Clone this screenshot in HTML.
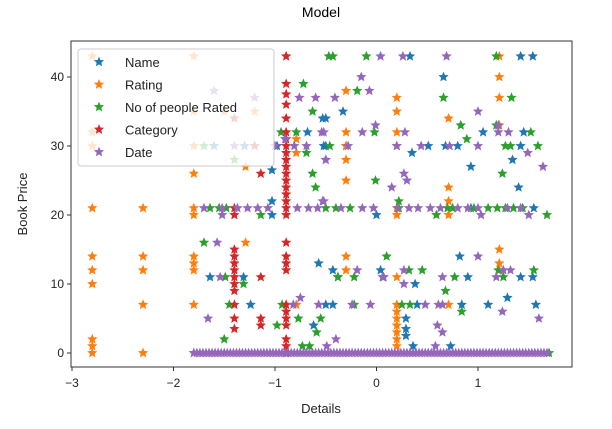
<!DOCTYPE html>
<html><head><meta charset="utf-8"><style>
body{margin:0;background:#fff;}
svg{display:block;font-family:"Liberation Sans","DejaVu Sans",sans-serif;}
</style></head><body>
<svg id="chart" width="612" height="429" viewBox="0 0 612 429">
<rect x="0" y="0" width="612" height="429" fill="#fff"/>
<text x="321" y="17" font-size="14" text-anchor="middle" fill="#000">Model</text>
<g id="marks"></g>
<rect x="71" y="41" width="501" height="326" fill="none" stroke="#333" stroke-width="1"/>
<g id="axes"></g>
<text x="321" y="413" font-size="13" text-anchor="middle" fill="#222">Details</text>
<text transform="translate(27,204) rotate(-90)" font-size="13" text-anchor="middle" fill="#222">Book Price</text>
<g id="legend"></g>
</svg>
<script>
const xTicks=[-3,-2,-1,0,1];
const yTicks=[0,10,20,30,40];
const seriesNames=["Name","Rating","No of people Rated","Category","Date"];
const colors=["#1f77b4","#ff7f0e","#2ca02c","#d62728","#9467bd"];
const nameX=[0.33,1.42,1.54,0.66,-0.33,-0.5,-0.52,0.51,0.68,1.42,1.05,1.45,0.35,1.34,0.93,1.40,0,0.93,1.55,-0.53,-0.5,-0.68,-0.98,-1.03,-1.03,-1.03,0.82,-0.43,0.04,0.9,1.54,0.38,-0.38,1.42,1.29,-0.43,0.4,0.84,1.1,1.57,0.29,0.29,0.29,0.36,0.73,-0.57,-1.64,-1.31,-1.24,-0.62,-0.5,-0.3,0.8,-1.3,-1.6];
const nameY=[43,43,43,40,35,34,30,30,30,30,32,32,29,28,27,24,20,21,21,34,30,32,30,26.5,22,20,14,12,12,11,11,10,11,11,8,7,7,7,7,7,5,3.5,2.5,1,1,13,11,11,7,4,7,30,30,30,30];
const ratingX=[-2.8,-2.8,-2.8,-2.8,-2.8,-2.8,-2.8,-2.8,-2.8,-2.8,-2.3,-2.3,-2.3,-2.3,-2.3,-1.8,-1.8,-1.8,-1.8,-1.8,-1.8,-1.8,-1.8,-1.8,-1.8,-1.8,0.2,0.2,0.2,0.2,0.2,0.2,0.2,0.2,0.2,0.2,0.2,0.2,0.2,0.2,1.21,1.21,1.21,1.21,1.21,1.21,1.21,-0.3,-0.3,-0.3,-0.3,-0.3,-0.3,-0.3,0.71,0.71,0.71,0.71,0.71,-0.79,-0.79,-1.29,-1.29,-0.79,-1.5,-1.2];
const ratingY=[43,32,30,21,14,12,10,2,1,0,21,14,12,7,0,43,30,26,21,20,14,13,12,7,0,35,37,35,32,30,20,11,7,6,5,4,3,2,1,21,43,40,37,33,15,13,12,38,32,30,28,25,14,12,34,24,22,20,7,31,29,27,16,7,35,35];
const ratedX=[-0.43,-0.1,1.18,-0.19,0.66,1.33,0.83,1.18,-0.02,0.89,-0.46,1.27,1.32,1.59,1.52,1.24,-0.01,0.22,-0.4,-0.26,0.22,0.7,0.75,0.96,1.1,1.19,1.27,1.35,1.44,0.59,1.68,0.1,0.32,0.45,1.55,1.2,0.07,-0.38,-0.22,0.77,1.25,0.68,0.25,-0.22,0.33,0.84,1.7,-0.47,-0.72,-0.63,-0.79,-0.94,-0.69,-0.63,-0.6,-1.64,-1.55,-1.48,-1.14,-0.5,-1.7,-1.49,-1.31,-1.45,-0.93,-0.77,-0.55,-0.98,-1.5,-0.59,-0.73,-0.66,-1.4,-1.7];
const ratedY=[43,43,43,38,37,37,33,33,32,31,30,30,30,30,32,26,25,22,21,21,21,21,21,21,21,21,21,21,21,20,20,14,12,12,12,12,11,11,11,11,11,9,7,7,7,6,0,43,39,35,32,32,29,26,24,21,21,21,20,21,16,11,10,7,7,5,5,4,2,3,1,1,28,30];
const catX=[-0.89,-0.89,-0.89,-0.89,-0.89,-0.89,-0.89,-0.89,-0.89,-0.89,-0.89,-0.89,-0.89,-0.89,-0.89,-0.89,-0.89,-0.89,-0.89,-0.89,-0.89,-0.89,-0.89,-0.89,-0.89,-0.89,-0.89,-0.89,-0.89,-1.4,-1.4,-1.4,-1.4,-1.4,-1.4,-1.4,-1.4,-1.4,-1.4,-1.4,-1.4,-1.14,-1.14,-1.14,-1.14,-1.4,-1.2];
const catY=[43,39,37.5,36,34,32,31,30,29,28,27,26,25,24,23,22,21,20,16,14,13,12,7,6,5,4,2,1,0,21,20,14,13,12,11,10,9,7,5,3.5,15,26,11,5,4,34,30];
const dateX=[0.04,0.26,0.69,-0.15,-0.07,-0.41,1.0,-0.01,1.2,-0.54,-0.14,0.28,1.2,1.3,-0.28,0.2,0.44,0.72,1.0,1.49,-0.5,1.64,0.27,0.3,0.15,-0.53,-0.35,-0.14,-0.03,0.21,0.32,0.41,0.53,0.63,0.8,0.9,1.0,1.29,1.42,1.03,1.5,1.0,-0.19,0.27,1.25,1.32,0.07,0.06,0.65,1.18,0.27,0.65,-0.24,-0.06,0.48,0.61,1.24,1.6,0.6,0.65,-0.4,-0.49,0.58,-0.76,-0.6,-0.52,-0.9,-0.81,-0.69,-0.5,-1.7,-1.52,-1.37,-1.27,-1.17,-1.07,-0.78,-0.67,-0.58,-1.52,-0.52,-1.57,-1.54,-0.75,-0.82,-0.57,-1.66,-1.2,-1.0,-1.4,-1.6,
-1.8,-1.74,-1.68,-1.62,-1.56,-1.5,-1.44,-1.38,-1.32,-1.26,-1.2,-1.14,-1.08,-1.02,-0.96,-0.9,-0.84,-0.78,-0.72,-0.66,-0.6,-0.54,-0.48,-0.42,-0.36,-0.3,-0.24,-0.18,-0.12,-0.06,0,0.06,0.12,0.18,0.24,0.3,0.36,0.42,0.48,0.54,0.6,0.66,0.72,0.78,0.84,0.9,0.96,1.02,1.08,1.14,1.2,1.26,1.32,1.38,1.44,1.5,1.56,1.62,1.68,
-1.77,-1.71,-1.65,-1.59,-1.53,-1.47,-1.41,-1.35,-1.29,-1.23,-1.17,-1.11,-1.05,-0.99,-0.93,-0.87,-0.81,-0.75,-0.69,-0.63,-0.57,-0.51,-0.45,-0.39,-0.33,-0.27,-0.21,-0.15,-0.09,-0.03,0.03,0.09,0.15,0.21,0.27,0.33,0.39,0.45,0.51,0.57,0.63,0.69,0.75,0.81,0.87,0.93,0.99,1.05,1.11,1.17,1.23,1.29,1.35,1.41,1.47,1.53,1.59,1.65];
const dateY=[43,43,43,40,38,37,35,33,33,32,32,32,32,32,30,30,30,30,30,29,28,27,26,25,24,22,21,21,21,21,21,21,21,21,21,21,21,21,21,20,20,14,12,12,12,12,11,11,11,11,10,7,7,7,7,7,6,5,4,3,2,1,1,37,37,32,31,30,30,28,21,21,21,21,21,21,21,21,21,20,22,16,11,8,7,7,5,37,30,30,38,
0,0,0,0,0,0,0,0,0,0,0,0,0,0,0,0,0,0,0,0,0,0,0,0,0,0,0,0,0,0,0,0,0,0,0,0,0,0,0,0,0,0,0,0,0,0,0,0,0,0,0,0,0,0,0,0,0,0,0,
0,0,0,0,0,0,0,0,0,0,0,0,0,0,0,0,0,0,0,0,0,0,0,0,0,0,0,0,0,0,0,0,0,0,0,0,0,0,0,0,0,0,0,0,0,0,0,0,0,0,0,0,0,0,0,0,0,0];
const NS="http://www.w3.org/2000/svg";
function xs(v){return 376.5+v*101.5;}
function ys(v){return 353-v*6.9;}
function starPts(cx,cy,R){const r=R*0.45;let p=[];for(let i=0;i<10;i++){const a=-Math.PI/2+i*Math.PI/5;const rr=i%2?r:R;p.push((cx+rr*Math.cos(a)).toFixed(1)+","+(cy+rr*Math.sin(a)).toFixed(1));}return p.join(" ");}
const marks=document.getElementById("marks");
const allX=[nameX,ratingX,ratedX,catX,dateX];
const allY=[nameY,ratingY,ratedY,catY,dateY];
const keys=["name","rating","rated","category","date"];
for(let s=0;s<5;s++){
  const g=document.createElementNS(NS,"g");
  
  
  for(let i=0;i<allX[s].length;i++){
    const p=document.createElementNS(NS,"polygon");
    p.setAttribute("points",starPts(xs(allX[s][i]),ys(allY[s][i]),5.4));
    p.setAttribute("fill",colors[s]);
    
    
    g.appendChild(p);
  }
  marks.appendChild(g);
}
const axes=document.getElementById("axes");
xTicks.forEach(t=>{
  const x=xs(t);
  const l=document.createElementNS(NS,"line");
  l.setAttribute("x1",x);l.setAttribute("x2",x);l.setAttribute("y1",367);l.setAttribute("y2",371);l.setAttribute("stroke","#333");
  
  
  axes.appendChild(l);
  const tx=document.createElementNS(NS,"text");
  tx.setAttribute("x",x);tx.setAttribute("y",387);tx.setAttribute("font-size","12");tx.setAttribute("text-anchor","middle");tx.setAttribute("fill","#222");
  tx.textContent=(t<0?"\u2212"+(-t):String(t));
  
  
  axes.appendChild(tx);
});
yTicks.forEach(t=>{
  const y=ys(t);
  const l=document.createElementNS(NS,"line");
  l.setAttribute("x1",67);l.setAttribute("x2",71);l.setAttribute("y1",y);l.setAttribute("y2",y);l.setAttribute("stroke","#333");
  
  
  axes.appendChild(l);
  const tx=document.createElementNS(NS,"text");
  tx.setAttribute("x",64);tx.setAttribute("y",y+4);tx.setAttribute("font-size","12");tx.setAttribute("text-anchor","end");tx.setAttribute("fill","#222");
  tx.textContent=String(t);
  
  
  axes.appendChild(tx);
});
const lg=document.getElementById("legend");
const box=document.createElementNS(NS,"rect");
box.setAttribute("x",78);box.setAttribute("y",49);box.setAttribute("width",196);box.setAttribute("height",117);box.setAttribute("rx",3);
box.setAttribute("fill","rgba(255,255,255,0.8)");box.setAttribute("stroke","#ccc");


lg.appendChild(box);
seriesNames.forEach((n,i)=>{
  const y=62+i*22.5;
  const p=document.createElementNS(NS,"polygon");
  p.setAttribute("points",starPts(99,y,5.4));p.setAttribute("fill",colors[i]);
  
  
  lg.appendChild(p);
  const t=document.createElementNS(NS,"text");
  t.setAttribute("x",125);t.setAttribute("y",y+5);t.setAttribute("font-size","13");t.setAttribute("fill","#222");
  t.textContent=n;
  
  
  lg.appendChild(t);
});
</script>
</body></html>
